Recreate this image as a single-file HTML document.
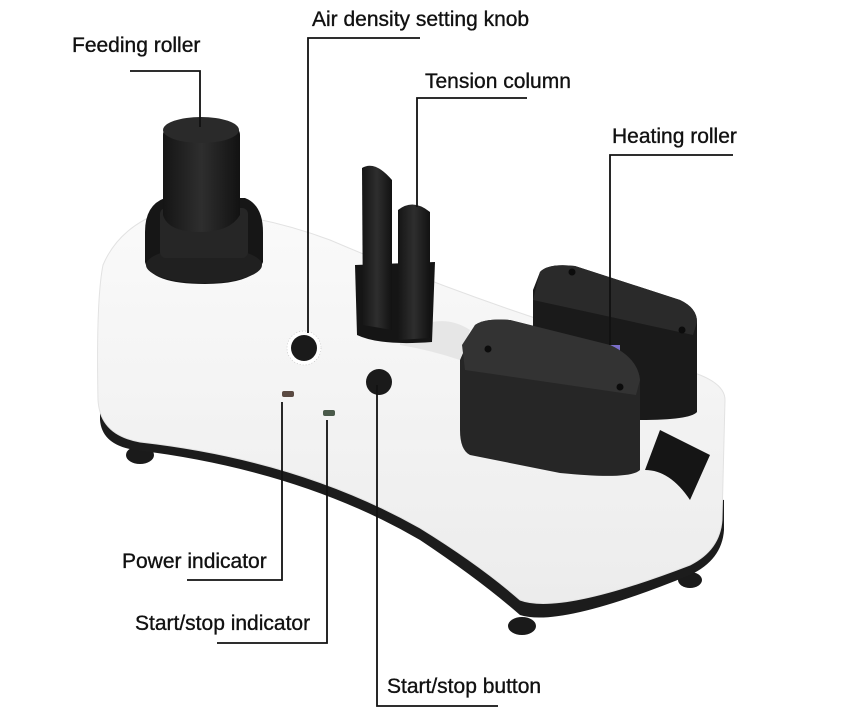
<!DOCTYPE html>
<html><head><meta charset="utf-8"><style>
html,body{margin:0;padding:0;background:#fff;width:847px;height:726px;overflow:hidden}
svg{display:block}
text{font-family:"Liberation Sans",sans-serif;font-size:21px;fill:#111;stroke:#111;stroke-width:0.35}
</style></head><body>
<svg width="847" height="726" viewBox="0 0 847 726">
<defs>
<linearGradient id="wb" x1="0" y1="0" x2="0" y2="1"><stop offset="0" stop-color="#fafafa"/><stop offset="1" stop-color="#ececec"/></linearGradient>
<linearGradient id="bk" x1="0" y1="0" x2="1" y2="0"><stop offset="0" stop-color="#151515"/><stop offset="0.5" stop-color="#2e2e2e"/><stop offset="1" stop-color="#121212"/></linearGradient>
</defs>
<ellipse cx="140" cy="455" rx="14" ry="9" fill="#1a1a1a"/>
<ellipse cx="522" cy="626" rx="14" ry="9" fill="#1a1a1a"/>
<ellipse cx="690" cy="580" rx="12" ry="8" fill="#1a1a1a"/>
<path d="M100 420 Q102 445 135 450 Q300 470 420 540 Q480 580 520 615 Q560 628 690 575 Q722 560 724 530 L724 500 L100 400 Z" fill="#1c1c1c"/>
<path d="M168 210 Q120 225 103 265 Q96 300 98 400 Q100 435 140 442 Q300 460 420 528 Q480 565 520 600 Q560 615 690 565 Q720 550 722 520 L725 400 Q725 385 700 375 L620 345 Q470 300 330 240 Q250 210 168 210 Z" fill="url(#wb)" stroke="#e2e2e2"/>
<path d="M400 335 Q440 310 470 330 L460 360 Q430 350 400 345 Z" fill="#e6e6e6"/>
<path d="M145 232 Q145 205 165 198 L245 198 Q263 205 263 232 L263 262 Q255 284 205 284 Q150 284 145 262 Z" fill="#161616"/>
<ellipse cx="204" cy="265" rx="58" ry="18" fill="#202020"/>
<rect x="160" y="208" width="88" height="50" rx="6" fill="#262626"/>
<path d="M163 135 Q163 120 200 118 Q240 120 240 135 L240 215 Q230 232 200 232 Q168 232 163 215 Z" fill="url(#bk)"/>
<ellipse cx="201" cy="130" rx="38" ry="13" fill="#2a2a2a"/>
<path d="M355 265 L357 335 Q380 346 432 342 L435 262 Z" fill="#151515"/>
<path d="M362 168 Q375 160 392 180 L392 330 L363 325 Z" fill="url(#bk)"/>
<path d="M398 210 Q413 198 430 212 L430 338 L398 340 Z" fill="url(#bk)"/>
<path d="M540 272 Q548 263 575 266 L680 300 Q697 308 697 322 L697 412 Q690 420 640 420 L533 400 L533 290 Z" fill="#1a1a1a"/>
<path d="M540 272 Q548 263 575 266 L680 300 Q697 308 697 322 L693 335 L533 300 Z" fill="#2a2a2a"/>
<rect x="598" y="345" width="22" height="22" fill="#7a6ec8"/>
<path d="M475 325 Q485 318 510 320 L610 345 Q638 358 640 380 L640 470 Q630 480 560 473 L470 455 Q460 450 460 430 L460 360 Z" fill="#262626"/>
<path d="M475 325 Q485 318 510 320 L610 345 Q638 358 640 380 L636 395 L465 370 L462 345 Z" fill="#333"/>
<path d="M660 430 L710 455 L690 500 Q670 470 645 470 Z" fill="#151515"/>
<circle cx="488" cy="349" r="3.5" fill="#0c0c0c"/><circle cx="620" cy="387" r="3.5" fill="#0c0c0c"/>
<circle cx="572" cy="272" r="3.5" fill="#0c0c0c"/><circle cx="682" cy="330" r="3.5" fill="#0c0c0c"/>
<circle cx="304" cy="348" r="17" fill="#fff" stroke="#bbb" stroke-width="0.6" stroke-dasharray="1 2"/>
<circle cx="304" cy="348" r="13" fill="#1a1a1a"/>
<circle cx="379" cy="382" r="13" fill="#1a1a1a"/>
<rect x="282" y="391" width="12" height="6" rx="2" fill="#5a4a42"/>
<rect x="323" y="410" width="12" height="6" rx="2" fill="#4a5a4a"/>
<g stroke="#111" stroke-width="1.8" fill="none">
<polyline points="130,71 200,71 200,127"/>
<polyline points="420,38 308,38 308,333"/>
<polyline points="527,98 417,98 417,207"/>
<polyline points="733,155 610,155 610,345"/>
<polyline points="187,580 282,580 282,402"/>
<polyline points="217,643 327,643 327,420"/>
<polyline points="498,706 377,706 377,385"/>
</g>
<text x="72" y="52">Feeding roller</text>
<text x="312" y="26">Air density setting knob</text>
<text x="425" y="88">Tension column</text>
<text x="612" y="143">Heating roller</text>
<text x="122" y="568">Power indicator</text>
<text x="135" y="630">Start/stop indicator</text>
<text x="387" y="693">Start/stop button</text>
</svg>
</body></html>
